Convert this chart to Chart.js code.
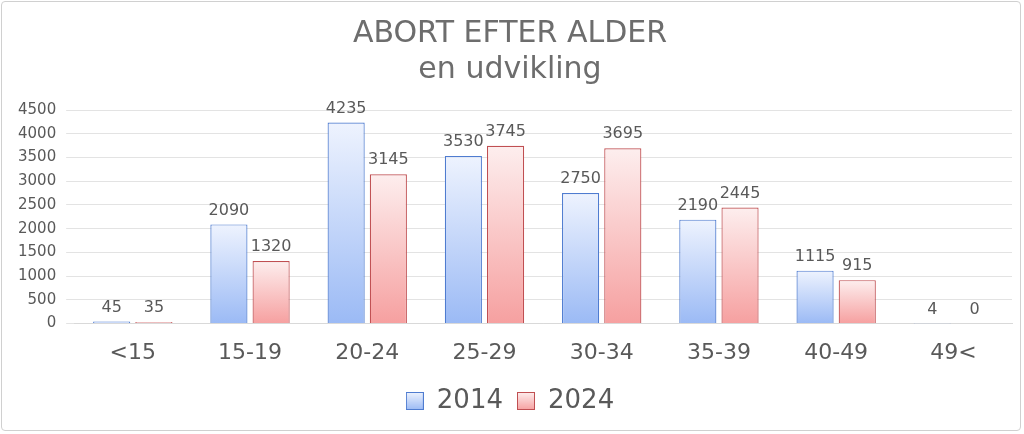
<!DOCTYPE html>
<html><head><meta charset="utf-8">
<script src="https://cdn.jsdelivr.net/npm/chart.js@4"></script>
<style>
html,body{margin:0;padding:0;background:#fff;}
#wrap{position:absolute;left:1px;top:1px;width:1020px;height:430px;border:1px solid #d0d0d0;border-radius:4px;box-sizing:border-box;}
</style></head><body>
<div id="wrap"><canvas id="c"></canvas></div>
<script>
const categories = ['<15','15-19','20-24','25-29','30-34','35-39','40-49','49<'];
const values2014 = [45,2090,4235,3530,2750,2190,1115,4];
const values2024 = [35,1320,3145,3745,3695,2445,915,0];
const seriesNames = ['2014','2024'];
const yTicks = [0,500,1000,1500,2000,2500,3000,3500,4000,4500];

function grad(light, dark){
  return function(ctx){
    const chart = ctx.chart;
    if(!chart.chartArea || ctx.type!=='data') return dark;
    const y = chart.scales.y;
    const top = y.getPixelForValue(ctx.raw);
    const bot = y.getPixelForValue(0);
    if(!(bot-top>1)) return light;
    const g = chart.ctx.createLinearGradient(0,top,0,bot);
    g.addColorStop(0,light); g.addColorStop(1,dark);
    return g;
  };
}
function legendImg(light,dark,border){
  const c=document.createElement('canvas');c.width=18;c.height=18;
  const x=c.getContext('2d');const g=x.createLinearGradient(0,0,0,18);
  g.addColorStop(0,light);g.addColorStop(1,dark);x.fillStyle=g;x.fillRect(0,0,18,18);
  x.strokeStyle=border;x.lineWidth=1;x.strokeRect(0.5,0.5,17,17);
  return c;
}
const labelPlugin={id:'lbl',afterDatasetsDraw(chart){
  const ctx=chart.ctx;ctx.save();ctx.fillStyle='#595959';ctx.font='16px "DejaVu Sans"';
  ctx.textAlign='center';ctx.textBaseline='bottom';
  chart.data.datasets.forEach((ds,i)=>{
    chart.getDatasetMeta(i).data.forEach((el,j)=>{
      ctx.fillText(String(ds.data[j]),el.x,el.y-6);
    });
  });
  ctx.restore();
}};
new Chart(document.getElementById('c'),{
  type:'bar',
  data:{labels:categories,datasets:[
    {label:seriesNames[0],data:values2014,backgroundColor:grad('#eef3fe','#9bbaf5'),borderColor:'#4f7cd0',borderWidth:1.2},
    {label:seriesNames[1],data:values2024,backgroundColor:grad('#fdeeee','#f6a0a0'),borderColor:'#c04f52',borderWidth:1.2}
  ]},
  options:{
    responsive:true,maintainAspectRatio:false,animation:false,
    layout:{padding:{left:6,right:8,top:4,bottom:6}},
    datasets:{bar:{categoryPercentage:0.72,barPercentage:0.88}},
    plugins:{
      title:{display:true,text:['ABORT EFTER ALDER','en udvikling'],color:'#6d6d6d',font:{family:'DejaVu Sans',size:30,weight:'normal',lineHeight:1.2},padding:{top:10,bottom:22}},
      legend:{position:'bottom',labels:{color:'#595959',font:{family:'DejaVu Sans',size:26},usePointStyle:true,boxWidth:18,boxHeight:18,padding:14,
        generateLabels(chart){return [
          {text:'2014',pointStyle:legendImg('#eef3fe','#9bbaf5','#4f7cd0'),fontColor:'#595959',datasetIndex:0},
          {text:'2024',pointStyle:legendImg('#fdeeee','#f6a0a0','#c04f52'),fontColor:'#595959',datasetIndex:1}];}}},
      tooltip:{enabled:false}
    },
    scales:{
      x:{grid:{display:false},border:{color:'#d9d9d9'},ticks:{color:'#595959',font:{family:'DejaVu Sans',size:22},padding:8}},
      y:{min:0,max:4500,afterBuildTicks(s){s.ticks=yTicks.map(v=>({value:v}));},
        grid:{color:'#e3e3e3'},border:{display:false},ticks:{color:'#595959',font:{family:'DejaVu Sans',size:15},padding:10,callback:v=>String(v)}}
    }
  },
  plugins:[labelPlugin]
});
</script></body></html>
